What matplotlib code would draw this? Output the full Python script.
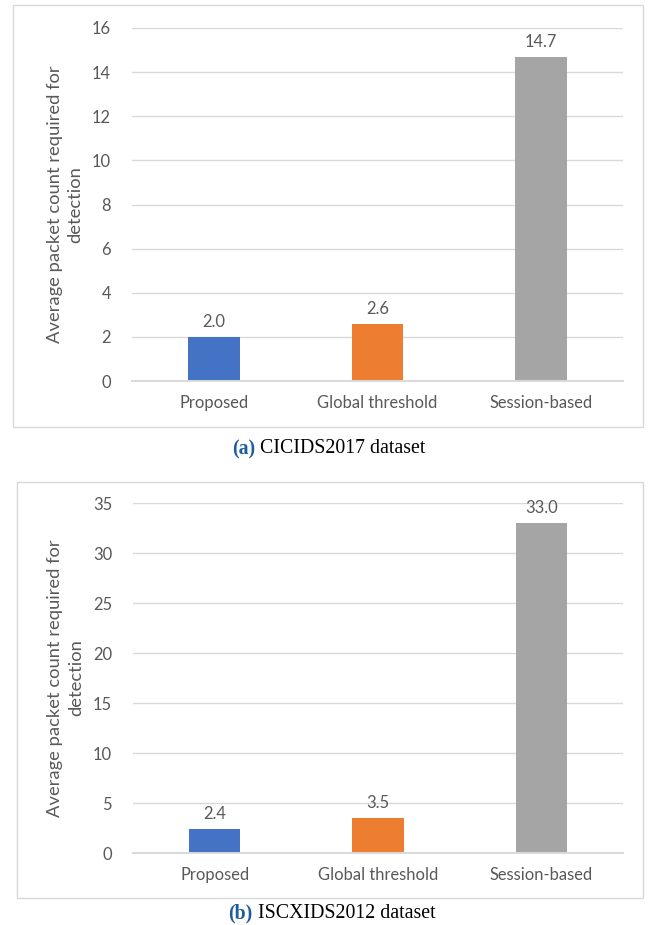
import matplotlib
matplotlib.use("Agg")
import matplotlib.pyplot as plt
from matplotlib.patches import Rectangle

categories = ["Proposed", "Global threshold", "Session-based"]
values_a = [2.0, 2.6, 14.7]
values_b = [2.4, 3.5, 33.0]
yticks_a = [0, 2, 4, 6, 8, 10, 12, 14, 16]
yticks_b = [0, 5, 10, 15, 20, 25, 30, 35]
ylabel = "Average packet count required for\ndetection"
caption_a = ("(a)", "CICIDS2017 dataset")
caption_b = ("(b)", "ISCXIDS2012 dataset")

colors = ["#4472C4", "#ED7D31", "#A5A5A5"]
W, H = 648, 925
TXT = "#595959"
GRID = "#D9D9D9"
FONT = "Lato"
TICK_FS = 11.9
LABEL_FS = 13.2

fig = plt.figure(figsize=(W / 100, H / 100), dpi=100)


def px_rect(x0, y0, x1, y1):
    return [x0 / W, 1 - y1 / H, (x1 - x0) / W, (y1 - y0) / H]


def panel(rect, values, yticks, box):
    bx0, by0, bx1, by1 = box
    fig.patches.append(Rectangle((bx0 / W, 1 - by1 / H), (bx1 - bx0) / W, (by1 - by0) / H,
                                 transform=fig.transFigure, fill=False,
                                 edgecolor=GRID, linewidth=1.0))
    ax = fig.add_axes(px_rect(*rect))
    x = range(len(categories))
    bars = ax.bar(x, values, width=0.315, color=colors, zorder=3)
    ax.set_xlim(-0.5, len(categories) - 0.5)
    ax.set_ylim(yticks[0], yticks[-1])
    ax.set_yticks(yticks)
    ax.set_xticks(list(x))
    ax.set_xticklabels(categories)
    ax.yaxis.grid(True, color=GRID, linewidth=1.0, zorder=0)
    ax.set_axisbelow(True)
    for s in ["top", "right", "left"]:
        ax.spines[s].set_visible(False)
    ax.spines["bottom"].set_color(GRID)
    ax.spines["bottom"].set_linewidth(1.4)
    ax.spines["bottom"].set_zorder(4)
    ax.tick_params(axis="both", length=0, labelsize=TICK_FS, colors=TXT)
    ax.tick_params(axis="y", pad=15)
    ax.tick_params(axis="x", pad=10)
    for lab in ax.get_xticklabels() + ax.get_yticklabels():
        lab.set_fontfamily(FONT)
    for b, v in zip(bars, values):
        ax.annotate(f"{v:.1f}", (b.get_x() + b.get_width() / 2, v),
                    xytext=(0, 5), textcoords="offset points",
                    ha="center", va="bottom", fontsize=TICK_FS, color=TXT,
                    fontfamily=FONT)
    ax.set_ylabel(ylabel, fontsize=LABEL_FS, color=TXT, fontfamily=FONT,
                  linespacing=1.4, labelpad=6)
    return ax


ax_a = panel((132, 28, 623, 381), values_a, yticks_a, (13, 5, 643, 427))
ax_b = panel((133, 503, 623, 853), values_b, yticks_b, (17, 482, 643, 898))


def caption(parts, cx, cy):
    lead, rest = parts
    t1 = fig.text(0, 1 - cy / H, lead, fontsize=14.3, fontweight="bold",
                  color="#1F5C99", fontfamily="Liberation Serif", va="center")
    t2 = fig.text(0, 1 - cy / H, " " + rest, fontsize=14.3, color="black",
                  fontfamily="Liberation Serif", va="center")
    fig.canvas.draw()
    r = fig.canvas.get_renderer()
    w1 = t1.get_window_extent(r).width
    w2 = t2.get_window_extent(r).width
    x0 = cx - (w1 + w2) / 2
    t1.set_x(x0 / W)
    t2.set_x((x0 + w1) / W)


caption(caption_a, 329, 449)
caption(caption_b, 332, 913)

fig.savefig("out.png", dpi=100)
